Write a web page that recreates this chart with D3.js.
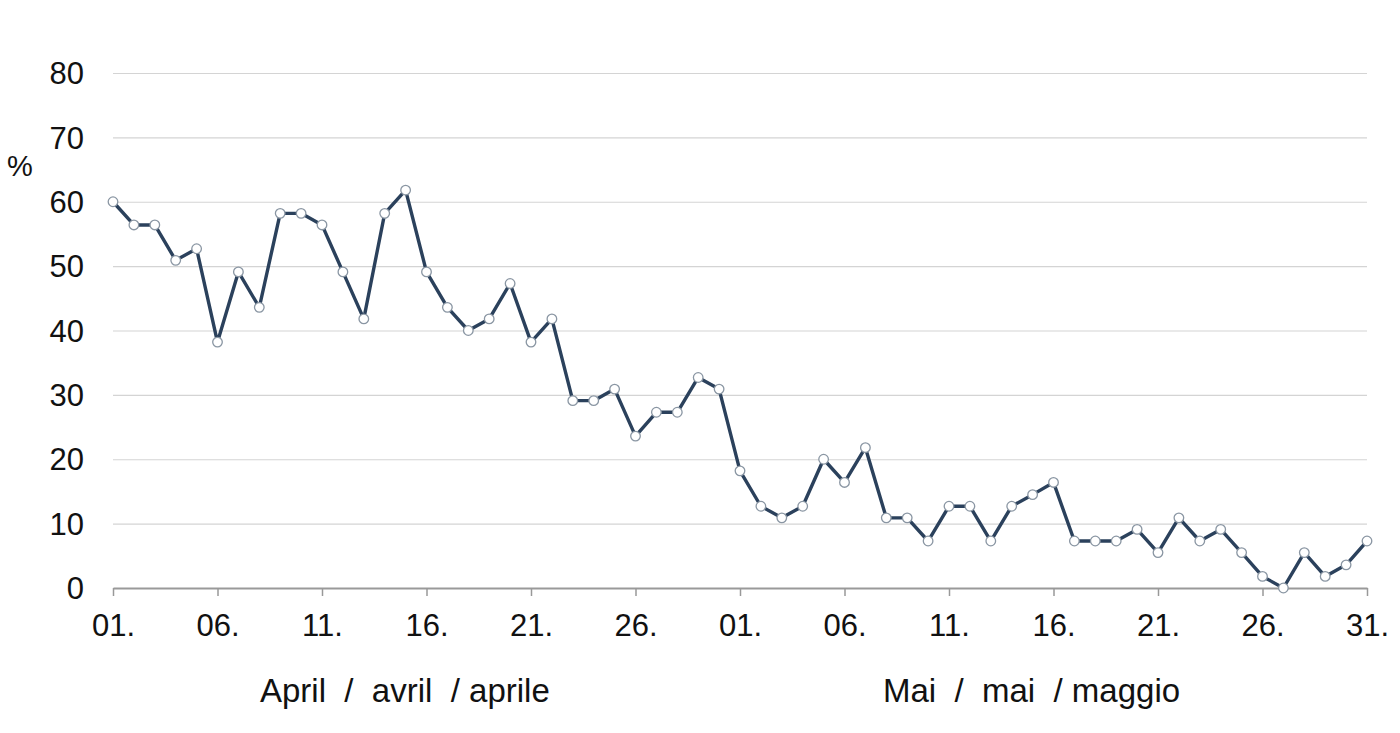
<!DOCTYPE html>
<html>
<head>
<meta charset="utf-8">
<script src="https://cdn.jsdelivr.net/npm/d3@7"></script>
<style>
  body { margin: 0; background: #fff; }
  text { font-family: "Liberation Sans", Arial, sans-serif; fill: #111; }
  .grid line { stroke: #d4d4d4; stroke-width: 1.2; }
  .grid path { display: none; }
</style>
</head>
<body>
<div id="chart"></div>
<script>
// daily values, 1 April - 31 May (%)
var aprilValues = [60.0, 56.4, 56.4, 50.9, 52.7, 38.2, 49.1, 43.6, 58.2, 58.2,
                   56.4, 49.1, 41.8, 58.2, 61.8, 49.1, 43.6, 40.0, 41.8, 47.3,
                   38.2, 41.8, 29.1, 29.1, 30.9, 23.6, 27.3, 27.3, 32.7, 30.9];
var mayValues = [18.2, 12.7, 10.9, 12.7, 20.0, 16.4, 21.8, 10.9, 10.9, 7.3,
                 12.7, 12.7, 7.3, 12.7, 14.5, 16.4, 7.3, 7.3, 7.3, 9.1,
                 5.5, 10.9, 7.3, 9.1, 5.5, 1.8, 0.0, 5.5, 1.8, 3.6, 7.3];
var tickDates = ["2020-04-01", "2020-04-06", "2020-04-11", "2020-04-16", "2020-04-21", "2020-04-26",
                 "2020-05-01", "2020-05-06", "2020-05-11", "2020-05-16", "2020-05-21", "2020-05-26", "2020-05-31"];
var yTicks = [0, 10, 20, 30, 40, 50, 60, 70, 80];
var monthLabels = ["April  /  avril  / aprile", "Mai  /  mai  / maggio"];

var parseDate = d3.timeParse("%Y-%m-%d");
var days = d3.timeDays(parseDate("2020-04-01"), parseDate("2020-06-01"));
var values = aprilValues.concat(mayValues);
var data = days.map(function(d, i) { return {date: d, value: values[i]}; });

var margin = {top: 73, right: 33, bottom: 145, left: 113},
    width = 1400 - margin.left - margin.right,
    height = 733 - margin.top - margin.bottom;

var svg = d3.select("#chart")
  .append("svg")
  .attr("width", 1400)
  .attr("height", 733)
  .append("g")
  .attr("transform", "translate(" + margin.left + "," + margin.top + ")");

var x = d3.scaleTime()
  .domain([days[0], days[days.length - 1]])
  .range([0, width]);

var y = d3.scaleLinear()
  .domain([0, 80])
  .range([height, 0]);

// horizontal gridlines
svg.append("g")
  .attr("class", "grid")
  .call(d3.axisLeft(y).tickValues(yTicks.slice(1)).tickSize(-width).tickFormat(""));

// y labels
svg.selectAll(".ylab")
  .data(yTicks)
  .enter().append("text")
  .attr("class", "ylab")
  .attr("x", -29)
  .attr("y", function(d) { return y(d); })
  .attr("dy", "0.36em")
  .attr("text-anchor", "end")
  .style("font-size", "31px")
  .text(function(d) { return d; });

svg.append("text")
  .attr("x", -106)
  .attr("y", 176 - margin.top)
  .style("font-size", "29px")
  .text("%");

// x axis
var xAxis = svg.append("g")
  .attr("transform", "translate(0," + height + ")")
  .call(d3.axisBottom(x)
    .tickValues(tickDates.map(parseDate))
    .tickSize(8)
    .tickSizeOuter(0)
    .tickPadding(18)
    .tickFormat(d3.timeFormat("%d.")));
xAxis.select(".domain").attr("stroke", "#999").attr("stroke-width", 2);
xAxis.selectAll(".tick line").attr("stroke", "#999").attr("stroke-width", 1.5);
xAxis.selectAll(".tick text")
  .style("font-family", "Liberation Sans, Arial, sans-serif")
  .style("font-size", "31px")
  .attr("fill", "#111");

// month labels
svg.selectAll(".month")
  .data(monthLabels)
  .enter().append("text")
  .attr("class", "month")
  .attr("x", function(d, i) { return i === 0 ? 260 - margin.left : 883 - margin.left; })
  .attr("y", 702 - margin.top)
  .style("font-size", "33px")
  .style("white-space", "pre")
  .attr("xml:space", "preserve")
  .text(function(d) { return d; });

// line
svg.append("path")
  .datum(data)
  .attr("fill", "none")
  .attr("stroke", "#2b415c")
  .attr("stroke-width", 3.4)
  .attr("stroke-linejoin", "round")
  .attr("d", d3.line()
    .x(function(d) { return x(d.date); })
    .y(function(d) { return y(d.value); }));

// markers
svg.selectAll(".dot")
  .data(data)
  .enter().append("circle")
  .attr("class", "dot")
  .attr("cx", function(d) { return x(d.date); })
  .attr("cy", function(d) { return y(d.value); })
  .attr("r", 4.8)
  .attr("fill", "#fff")
  .attr("stroke", "#8a96a3")
  .attr("stroke-width", 1.3);
</script>
</body>
</html>
